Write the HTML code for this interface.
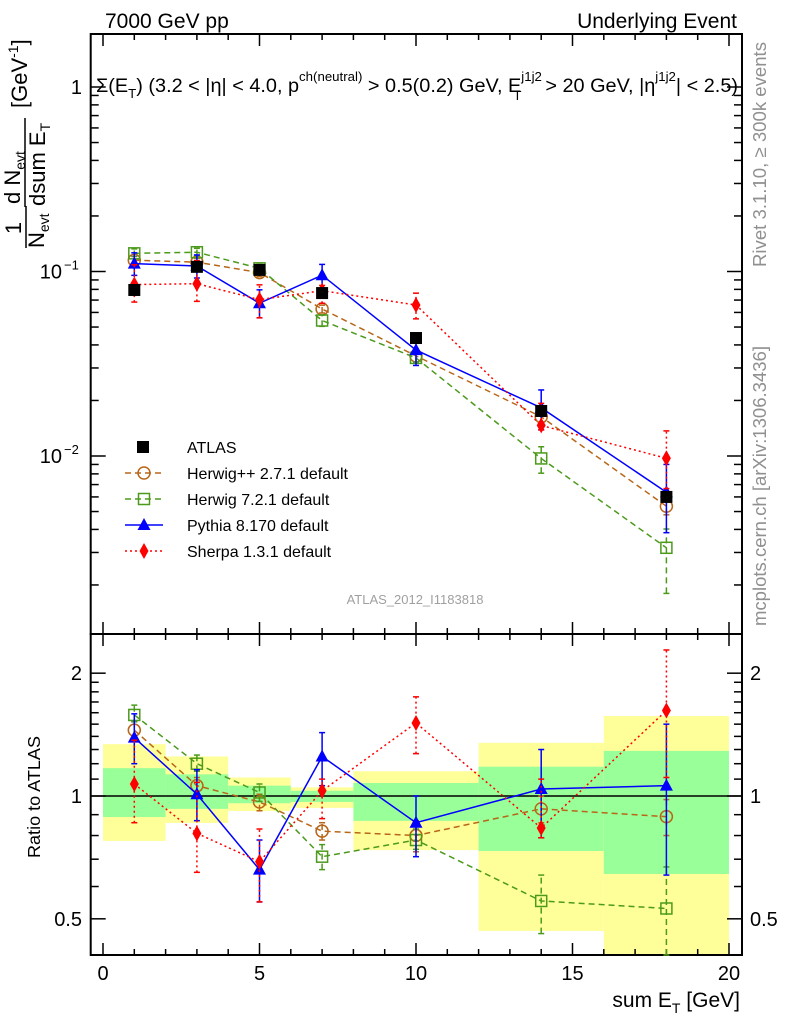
<!DOCTYPE html>
<html><head><meta charset="utf-8"><style>
body{margin:0;background:#fff;}
svg text{font-family:"Liberation Sans",sans-serif;}
</style></head><body>
<svg id="plot" width="786" height="1024" xmlns="http://www.w3.org/2000/svg">
<g id="bands"></g>
<g id="axes"></g>
<g id="series"></g>
<text x="105" y="28" font-size="21">7000 GeV pp</text>
<text x="737" y="28" font-size="21" text-anchor="end">Underlying Event</text>
<text x="96" y="92" font-size="19.5" textLength="642" lengthAdjust="spacingAndGlyphs">Σ(E<tspan font-size="13" dy="6">T</tspan><tspan dy="-6">) (3.2 &lt; |η| &lt; 4.0, p</tspan><tspan font-size="13" dy="-11">ch(neutral)</tspan><tspan dy="11"> &gt; 0.5(0.2) GeV, E</tspan><tspan font-size="13" dy="-11">j1j2</tspan><tspan font-size="13" dx="-28" dy="19">T</tspan><tspan dx="18" dy="-8"> &gt; 20 GeV, |η</tspan><tspan font-size="13" dy="-11">j1j2</tspan><tspan dy="11">| &lt; 2.5)</tspan></text>
<text x="415" y="604" font-size="13" fill="#a0a0a0" text-anchor="middle">ATLAS_2012_I1183818</text>
<text transform="translate(766,267) rotate(-90)" font-size="18.5" fill="#909090" textLength="225" lengthAdjust="spacingAndGlyphs">Rivet 3.1.10, ≥ 300k events</text>
<text transform="translate(766,626) rotate(-90)" font-size="18.5" fill="#909090" textLength="280" lengthAdjust="spacingAndGlyphs">mcplots.cern.ch [arXiv:1306.3436]</text>
<g transform="translate(0,300) rotate(-90)">
<text x="72" y="21" font-size="22" text-anchor="middle">1</text>
<line x1="52" y1="26" x2="94" y2="26" stroke="#000" stroke-width="1.5"/>
<text x="52" y="44" font-size="22">N<tspan font-size="14" dy="5">evt</tspan></text>
<text x="96" y="20" font-size="22">d N<tspan font-size="14" dy="5">evt</tspan></text>
<line x1="93" y1="25" x2="182" y2="25" stroke="#000" stroke-width="1.5"/>
<text x="94" y="45" font-size="22">dsum E<tspan font-size="14" dy="5">T</tspan></text>
<text x="192" y="27" font-size="22">[GeV<tspan font-size="14" dy="-9">-1</tspan><tspan dy="9">]</tspan></text>
</g>
<text transform="translate(40,858) rotate(-90)" font-size="17.5" textLength="122" lengthAdjust="spacingAndGlyphs">Ratio to ATLAS</text>
<text x="740" y="1007" font-size="21" text-anchor="end">sum E<tspan font-size="14" dy="6">T</tspan><tspan dy="-6"> [GeV]</tspan></text>
<g id="legend"></g>
</svg>
<script>
const xCenters=[1,3,5,7,10,14,18];
const binEdges=[0,2,4,6,8,12,16,20];
const atlasVals=[0.0794,0.106,0.102,0.0764,0.0436,0.01754,0.0060];
const bandYellowLo=[0.776,0.859,0.919,0.935,0.737,0.467,0.35];
const bandYellowHi=[1.34,1.25,1.11,1.05,1.15,1.35,1.57];
const bandGreenLo=[0.888,0.93,0.96,0.967,0.869,0.733,0.644];
const bandGreenHi=[1.17,1.13,1.06,1.03,1.076,1.18,1.29];
const hppRatio=[1.45,1.06,0.967,0.82,0.80,0.93,0.89];
const hppLo=[1.38,1.01,0.92,0.78,0.73,0.86,0.80];
const hppHi=[1.52,1.11,1.01,0.86,0.87,1.00,0.98];
const h7Ratio=[1.58,1.20,1.02,0.71,0.78,0.553,0.53];
const h7Lo=[1.52,1.15,0.97,0.66,0.74,0.46,0.30];
const h7Hi=[1.67,1.26,1.07,0.76,0.83,0.64,0.67];
const pyRatio=[1.39,1.01,0.66,1.25,0.86,1.04,1.06];
const pyLo=[1.20,0.87,0.55,1.06,0.71,0.79,0.64];
const pyHi=[1.59,1.16,0.78,1.43,1.00,1.30,1.50];
const shRatio=[1.07,0.81,0.69,1.03,1.51,0.835,1.62];
const shLo=[0.86,0.65,0.55,0.88,1.27,0.79,1.11];
const shHi=[1.37,1.08,0.83,1.10,1.75,1.10,2.28];
const legendLabels=["ATLAS","Herwig++ 2.7.1 default","Herwig 7.2.1 default","Pythia 8.170 default","Sherpa 1.3.1 default"];

const NS="http://www.w3.org/2000/svg";
const X0=90.7,X1=742,MT=34,MB=634,RB=955;
function xs(v){return 103+31.3*v;}
function ym(v){return 87-184.5*Math.log10(v);}
function yr(v){return 796-408*Math.log10(v);}
function mk(tag,attrs,parent){const e=document.createElementNS(NS,tag);for(const k in attrs)e.setAttribute(k,attrs[k]);parent.appendChild(e);return e;}
const axes=document.getElementById('axes'),bands=document.getElementById('bands'),ser=document.getElementById('series'),leg=document.getElementById('legend');

for(let i=0;i<xCenters.length;i++){
  const x=xs(binEdges[i]),w=xs(binEdges[i+1])-x;
  const top=Math.max(yr(bandYellowHi[i]),MB),bot=Math.min(yr(bandYellowLo[i]),RB);
  let r=mk('rect',{x:x,y:top,width:w,height:bot-top,fill:'#ffff99'},bands);
  
  
  r=mk('rect',{x:x,y:yr(bandGreenHi[i]),width:w,height:yr(bandGreenLo[i])-yr(bandGreenHi[i]),fill:'#99ff99'},bands);
  
  
}
let f=mk('rect',{x:X0,y:MT,width:X1-X0,height:MB-MT,fill:'none',stroke:'#000','stroke-width':2},axes);


f=mk('rect',{x:X0,y:MB,width:X1-X0,height:RB-MB,fill:'none',stroke:'#000','stroke-width':2},axes);


let l=mk('line',{x1:X0,x2:X1,y1:yr(1),y2:yr(1),stroke:'#000','stroke-width':1.5},axes);


for(let v=0;v<=20;v++){
  const L=v%5===0?12:6,x=xs(v);
  mk('line',{x1:x,x2:x,y1:MT,y2:MT+L,stroke:'#000','stroke-width':1.5},axes);
  mk('line',{x1:x,x2:x,y1:MB,y2:MB-L,stroke:'#000','stroke-width':1.5},axes);
  mk('line',{x1:x,x2:x,y1:MB,y2:MB+L,stroke:'#000','stroke-width':1.5},axes);
  mk('line',{x1:x,x2:x,y1:RB,y2:RB-L,stroke:'#000','stroke-width':1.5},axes);
  if(v%5===0){const t=mk('text',{x:x,y:980,'font-size':20,'text-anchor':'middle'},axes);t.textContent=v;
  
  }
}
for(let d=-3;d<=0;d++){for(let m=1;m<=9;m++){
  const v=m*Math.pow(10,d),y=ym(v);if(y<MT||y>MB)continue;
  const L=m===1?15:8;
  mk('line',{x1:X0,x2:X0+L,y1:y,y2:y,stroke:'#000','stroke-width':1.5},axes);
  mk('line',{x1:X1,x2:X1-L,y1:y,y2:y,stroke:'#000','stroke-width':1.5},axes);
}}
const ml=[[1,'1'],[0.1,'10'],[0.01,'10']];
ml.forEach((p,i)=>{const t=mk('text',{x:82,y:ym(p[0])+7,'font-size':20,'text-anchor':'end'},axes);
  
  
  if(i===0)t.textContent='1';else{t.setAttribute('x',62);t.textContent='10';const s=mk('text',{x:64,y:ym(p[0])-2,'font-size':13},axes);s.textContent=i===1?'−1':'−2';}});
[0.5,0.6,0.7,0.8,0.9,1,1.1,1.2,1.3,1.4,1.5,1.6,1.7,1.8,1.9,2].forEach(v=>{
  const y=yr(v),L=(v===0.5||v===1||v===2)?15:8;
  mk('line',{x1:X0,x2:X0+L,y1:y,y2:y,stroke:'#000','stroke-width':1.5},axes);
  mk('line',{x1:X1,x2:X1-L,y1:y,y2:y,stroke:'#000','stroke-width':1.5},axes);
});
[[0.5,'0.5'],[1,'1'],[2,'2']].forEach(p=>{
  let t=mk('text',{x:82,y:yr(p[0])+7,'font-size':20,'text-anchor':'end'},axes);t.textContent=p[1];
  
  
  t=mk('text',{x:750,y:yr(p[0])+7,'font-size':20},axes);t.textContent=p[1];
  
  
});

function marker(type,x,y,c,parent){
  if(type==='sq')return mk('rect',{x:x-5.5,y:y-5.5,width:11,height:11,fill:'none',stroke:c,'stroke-width':1.5},parent);
  if(type==='fsq')return mk('rect',{x:x-6,y:y-6,width:12,height:12,fill:'#000'},parent);
  if(type==='ci')return mk('circle',{cx:x,cy:y,r:6,fill:'none',stroke:c,'stroke-width':1.5},parent);
  if(type==='tri')return mk('path',{d:`M${x} ${y-7}L${x+6.5} ${y+5}L${x-6.5} ${y+5}Z`,fill:c},parent);
  return mk('path',{d:`M${x} ${y-8}L${x+4.5} ${y}L${x} ${y+8}L${x-4.5} ${y}Z`,fill:c},parent);
}
const seriesDefs=[
 {name:'herwigpp',r:hppRatio,lo:hppLo,hi:hppHi,c:'#b86618',dash:'6,4',m:'ci'},
 {name:'herwig7',r:h7Ratio,lo:h7Lo,hi:h7Hi,c:'#4c9a1c',dash:'6,4',m:'sq'},
 {name:'pythia',r:pyRatio,lo:pyLo,hi:pyHi,c:'#0000ff',dash:'',m:'tri'},
 {name:'sherpa',r:shRatio,lo:shLo,hi:shHi,c:'#ff0000',dash:'2,3',m:'dia'}];
function clampR(y){return Math.max(MB,Math.min(RB,y));}
seriesDefs.forEach(s=>{
  const g=mk('g',{},ser);
  
  
  const dm=s.r.map((r,i)=>[xs(xCenters[i]),ym(atlasVals[i]*r)]);
  const dr=s.r.map((r,i)=>[xs(xCenters[i]),yr(r)]);
  const st={fill:'none',stroke:s.c,'stroke-width':1.5};if(s.dash)st['stroke-dasharray']=s.dash;
  let p=mk('polyline',Object.assign({points:dm.map(q=>q.join(',')).join(' ')},st),g);
  
  
  p=mk('polyline',Object.assign({points:dr.map(q=>q.join(',')).join(' ')},st),g);
  
  
  s.r.forEach((r,i)=>{
    const x=xs(xCenters[i]),a=atlasVals[i];
    const pairs=[[ym(a*s.lo[i]),ym(a*s.hi[i])],[clampR(yr(s.lo[i])),clampR(yr(s.hi[i]))]];
    pairs.forEach(pp=>{
      const eb=Object.assign({x1:x,x2:x,y1:pp[0],y2:pp[1]},st);mk('line',eb,g);
      mk('line',{x1:x-3,x2:x+3,y1:pp[0],y2:pp[0],stroke:s.c,'stroke-width':1.5},g);
      mk('line',{x1:x-3,x2:x+3,y1:pp[1],y2:pp[1],stroke:s.c,'stroke-width':1.5},g);
    });
    let m=marker(s.m,x,ym(a*r),s.c,g);
    
    
    m=marker(s.m,x,yr(r),s.c,g);
    
    
  });
});
atlasVals.forEach((v,i)=>{
  const m=marker('fsq',xs(xCenters[i]),ym(v),'#000',ser);
  
  
});
const legY=[447,473,499,525,551];
legendLabels.forEach((lab,i)=>{
  const g=mk('g',{},leg);
  
  
  const y=legY[i];
  if(i===0){marker('fsq',143,y,'#000',g);}
  else{const s=seriesDefs[i-1];const st={x1:125,x2:163,y1:y,y2:y,stroke:s.c,'stroke-width':1.5};if(s.dash)st['stroke-dasharray']=s.dash;mk('line',st,g);marker(s.m,144,y,s.c,g);}
  const t=mk('text',{x:187,y:y+6,'font-size':16},g);t.textContent=lab;
});
</script>
</body></html>
